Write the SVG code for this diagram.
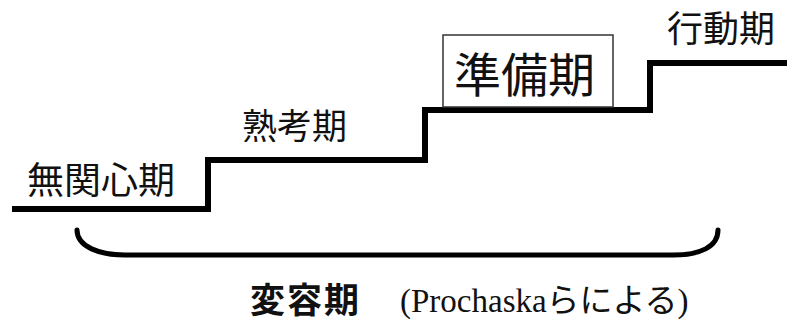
<svg xmlns="http://www.w3.org/2000/svg" width="787" height="323" viewBox="0 0 787 323">
<style>
.lbl{font-family:"Noto Sans CJK JP","Liberation Sans",sans-serif;fill:#111}
.cap{font-family:"Liberation Serif","Noto Sans CJK JP",serif;fill:#111}
.line{fill:none;stroke:#000}
</style>
<rect width="787" height="323" fill="#fff"/>
<g id="connectors">
<path class="line" d="M12,209 H208 V160 H425 V110 H650 V63 H787" stroke-width="6" stroke-linejoin="miter"/>
<path class="line" d="M77,230 C77,247 100,255 125,255 H673 C700,255 718,247 718,230" stroke-width="5" stroke-linecap="round"/>
</g>
<g id="stage1"><text class="lbl" x="27" y="194" font-size="37">無関心期</text></g>
<g id="stage2"><text class="lbl" x="242" y="139" font-size="35">熟考期</text></g>
<g id="stage3">
<rect x="443" y="35" width="170" height="72" fill="#fff" stroke="#333" stroke-width="1.5"/>
<text class="lbl" x="454" y="92" font-size="47">準備期</text>
</g>
<g id="stage4"><text class="lbl" x="667" y="42" font-size="36">行動期</text></g>
<g id="caption">
<text class="lbl" x="250" y="313" font-size="35" font-weight="bold" letter-spacing="2">変容期</text>
<text class="cap" x="400" y="312" font-size="33">(Prochaskaらによる)</text>
</g>
</svg>
